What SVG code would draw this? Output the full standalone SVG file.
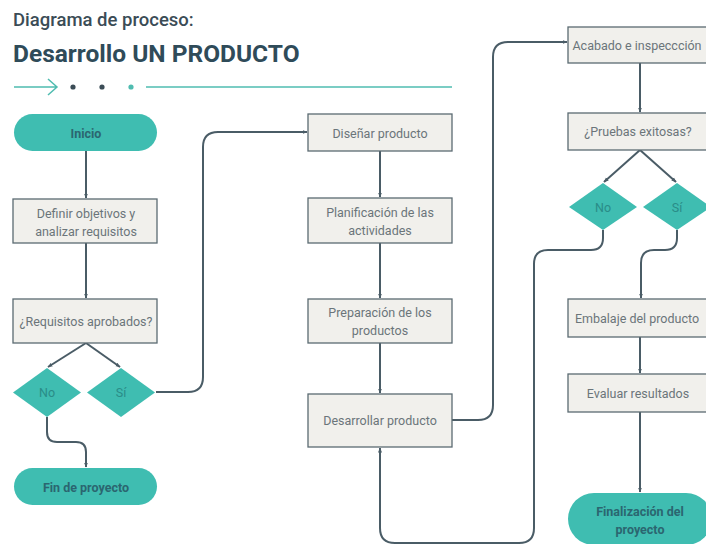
<svg xmlns="http://www.w3.org/2000/svg" width="706" height="544" viewBox="0 0 706 544">
<defs>
<marker id="ah" viewBox="0 0 10 10" refX="9" refY="5" markerWidth="5" markerHeight="5" orient="auto-start-reverse" markerUnits="userSpaceOnUse">
<path d="M0,1 L10,5 L0,9 z" fill="#4a5c66"/>
</marker>
<style>
.box{fill:#f1f0ec;stroke:#5b6a72;stroke-width:1.3}
.pill{fill:#3fbdb1}
.dia{fill:#3fbdb1}
.t{font-family:"Roboto","Liberation Sans",sans-serif;font-size:12.5px;fill:#6b757a;text-anchor:middle;dominant-baseline:central}
.pt{font-family:"Roboto","Liberation Sans",sans-serif;font-size:12.5px;font-weight:bold;fill:#2b6670;text-anchor:middle;dominant-baseline:central}
.dt{font-family:"Roboto","Liberation Sans",sans-serif;font-size:12.5px;fill:#2a8c88;text-anchor:middle;dominant-baseline:central}
.c{fill:none;stroke:#4a5c66;stroke-width:2}
</style>
</defs>
<rect width="706" height="544" fill="#ffffff"/>
<g id="title">
<text x="13" y="26" font-family="Roboto,'Liberation Sans',sans-serif" font-size="18.5" font-weight="500" fill="#3b4c56">Diagrama de proceso:</text>
<text x="13" y="62" font-family="Roboto,'Liberation Sans',sans-serif" font-size="24.5" font-weight="bold" fill="#2f4b59">Desarrollo UN PRODUCTO</text>
<path d="M14,87 H56 M48,79 L57,87 L48,95" fill="none" stroke="#4fbcb0" stroke-width="1.5"/>
<circle cx="73" cy="87" r="2.6" fill="#3b4c56"/>
<circle cx="102" cy="87" r="2.6" fill="#3b4c56"/>
<circle cx="131" cy="87" r="2.6" fill="#4fbcb0"/>
<line x1="146" y1="87" x2="452" y2="87" stroke="#4fbcb0" stroke-width="1.5"/>
</g>
<g id="connectors">
<path class="c" d="M86,151 V198" marker-end="url(#ah)"/>
<path class="c" d="M86,243 V298" marker-end="url(#ah)"/>
<path class="c" d="M86,343 L48,367" marker-end="url(#ah)"/>
<path class="c" d="M86,343 L120,367" marker-end="url(#ah)"/>
<path class="c" d="M47,417 V432 Q47,442 57,442 H76 Q86,442 86,452 V467" marker-end="url(#ah)"/>
<path class="c" d="M156,392 H188 Q203,392 203,377 V147 Q203,132 218,132 H307" marker-end="url(#ah)"/>
<path class="c" d="M380,151 V197" marker-end="url(#ah)"/>
<path class="c" d="M380,243 V298" marker-end="url(#ah)"/>
<path class="c" d="M380,343 V393" marker-end="url(#ah)"/>
<path class="c" d="M452,420 H478 Q493,420 493,405 V57 Q493,42 508,42 H567" marker-end="url(#ah)"/>
<path class="c" d="M640,63 V112" marker-end="url(#ah)"/>
<path class="c" d="M640,150 L604,182" marker-end="url(#ah)"/>
<path class="c" d="M640,150 L676,182" marker-end="url(#ah)"/>
<path class="c" d="M603,230 V238 Q603,250 591,250 H548 Q534,250 534,264 V528 Q534,543 519,543 H395 Q380,543 380,528 V448" marker-end="url(#ah)"/>
<path class="c" d="M677,230 V238 Q677,250 665,250 H654 Q641,250 641,263 V298" marker-end="url(#ah)"/>
<path class="c" d="M640,337 V373" marker-end="url(#ah)"/>
<path class="c" d="M640,412 V492" marker-end="url(#ah)"/>
</g>
<g id="inicio"><rect class="pill" x="14" y="114" width="143" height="37" rx="18.5"/><text class="pt" x="86" y="133">Inicio</text></g>
<g id="definir"><rect class="box" x="13" y="199" width="144" height="44"/><text class="t" x="86" y="213">Definir objetivos y</text><text class="t" x="86" y="231">analizar requisitos</text></g>
<g id="requisitos"><rect class="box" x="13" y="299" width="144" height="44"/><text class="t" x="86" y="321">¿Requisitos aprobados?</text></g>
<g id="no1"><polygon class="dia" points="47,368 81,392.5 47,417 13,392.5"/><text class="dt" x="47" y="392">No</text></g>
<g id="si1"><polygon class="dia" points="121,368 155,392.5 121,417 87,392.5"/><text class="dt" x="121" y="392">Sí</text></g>
<g id="fin"><rect class="pill" x="14" y="468" width="143" height="37" rx="18.5"/><text class="pt" x="86" y="487">Fin de proyecto</text></g>
<g id="disenar"><rect class="box" x="308" y="114" width="144" height="37"/><text class="t" x="380" y="133">Diseñar producto</text></g>
<g id="planificacion"><rect class="box" x="308" y="198" width="144" height="45"/><text class="t" x="380" y="212">Planificación de las</text><text class="t" x="380" y="230">actividades</text></g>
<g id="preparacion"><rect class="box" x="308" y="299" width="144" height="44"/><text class="t" x="380" y="312">Preparación de los</text><text class="t" x="380" y="330">productos</text></g>
<g id="desarrollar"><rect class="box" x="308" y="394" width="144" height="53"/><text class="t" x="380" y="420">Desarrollar producto</text></g>
<g id="acabado"><rect class="box" x="568" y="27" width="140" height="36"/><text class="t" x="637" y="45">Acabado e inspeccción</text></g>
<g id="pruebas"><rect class="box" x="568" y="113" width="140" height="37"/><text class="t" x="638" y="131">¿Pruebas exitosas?</text></g>
<g id="no2"><polygon class="dia" points="603,183 637,207 603,230 569,207"/><text class="dt" x="603" y="207">No</text></g>
<g id="si2"><polygon class="dia" points="677,183 711,207 677,230 643,207"/><text class="dt" x="677" y="207">Sí</text></g>
<g id="embalaje"><rect class="box" x="568" y="299" width="140" height="38"/><text class="t" x="637" y="318">Embalaje del producto</text></g>
<g id="evaluar"><rect class="box" x="568" y="374" width="140" height="38"/><text class="t" x="638" y="393">Evaluar resultados</text></g>
<g id="finalizacion"><rect class="pill" x="568" y="493" width="144" height="52" rx="26"/><text class="pt" x="640" y="511">Finalización del</text><text class="pt" x="640" y="529">proyecto</text></g>
</svg>
